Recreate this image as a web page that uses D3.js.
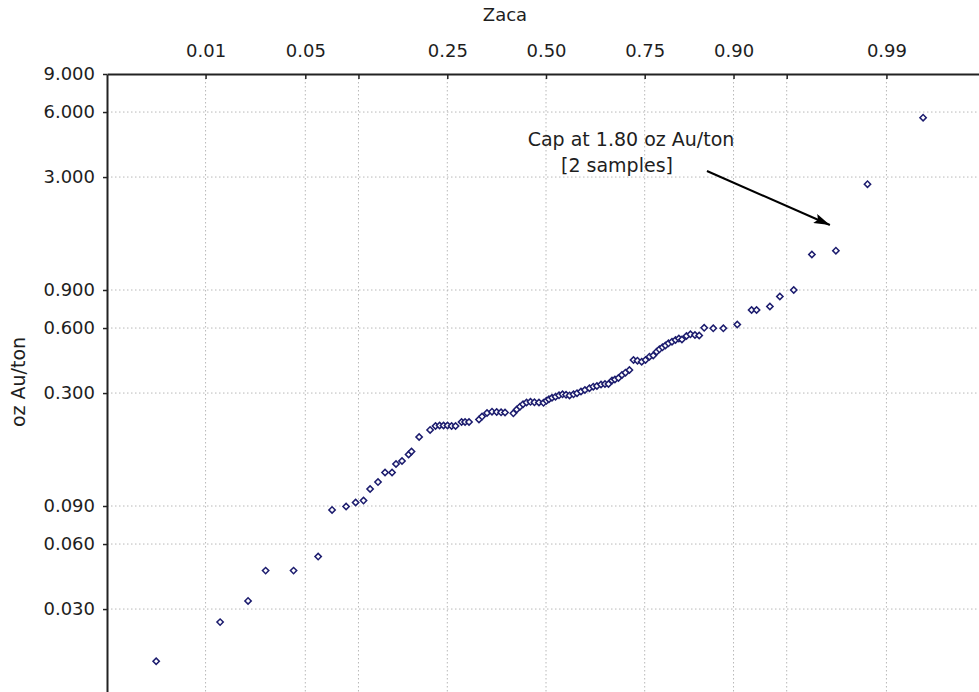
<!DOCTYPE html>
<html>
<head>
<meta charset="utf-8">
<script src="https://cdn.jsdelivr.net/npm/d3@7"></script>
<style>
  html, body { margin: 0; padding: 0; background: #ffffff; }
  svg { display: block; font-family: "DejaVu Sans", "Liberation Sans", Arial, sans-serif; }
</style>
</head>
<body>
<svg id="chart" width="979" height="692"></svg>
<script>
// Normal scores (expected z) of each sample and its gold grade (oz Au/ton)
const normalScores = [
  -2.664, -2.227, -2.036, -1.916, -1.725, -1.557, -1.462, -1.366, -1.301, -1.247,
  -1.202, -1.148, -1.100, -1.052, -1.025, -0.984, -0.939, -0.919, -0.867, -0.792,
  -0.755, -0.727, -0.700, -0.673, -0.645, -0.618, -0.577, -0.553, -0.526, -0.458,
  -0.437, -0.403, -0.369, -0.337, -0.307, -0.280, -0.223, -0.200, -0.178, -0.157,
  -0.133, -0.106, -0.079, -0.048, -0.017, 0.003, 0.020, 0.041, 0.065, 0.089,
  0.113, 0.137, 0.161, 0.188, 0.212, 0.239, 0.266, 0.297, 0.323, 0.348,
  0.376, 0.403, 0.427, 0.451, 0.471, 0.495, 0.519, 0.543, 0.570, 0.598,
  0.625, 0.654, 0.680, 0.707, 0.733, 0.756, 0.775, 0.796, 0.816, 0.837,
  0.861, 0.885, 0.908, 0.929, 0.960, 0.987, 1.018, 1.047, 1.081, 1.143,
  1.212, 1.307, 1.405, 1.439, 1.530, 1.598, 1.693, 1.817, 1.981, 2.197,
  2.577
];
const gradeValues = [
  0.0172, 0.0261, 0.0327, 0.0452, 0.0452, 0.0525, 0.0863, 0.0895, 0.0934, 0.0954,
  0.1079, 0.1162, 0.1286, 0.1286, 0.1408, 0.1454, 0.1558, 0.1609, 0.1878, 0.2024,
  0.2112, 0.2123, 0.2123, 0.2123, 0.2112, 0.2112, 0.2204, 0.2204, 0.2204, 0.2263,
  0.2336, 0.2425, 0.2459, 0.2451, 0.2443, 0.2438, 0.2417, 0.2518, 0.2594, 0.2664,
  0.2713, 0.2733, 0.2719, 0.2713, 0.2704, 0.2762, 0.2809, 0.2854, 0.2885, 0.2928,
  0.2960, 0.2945, 0.2924, 0.2960, 0.2995, 0.3050, 0.3099, 0.3159, 0.3210, 0.3234,
  0.3286, 0.3304, 0.3304, 0.3430, 0.3467, 0.3522, 0.3637, 0.3727, 0.3836, 0.4268,
  0.4237, 0.4192, 0.4268, 0.4420, 0.4477, 0.4662, 0.4783, 0.4886, 0.4981, 0.5099,
  0.5187, 0.5281, 0.5367, 0.5310, 0.5511, 0.5612, 0.5570, 0.5540, 0.6015, 0.5983,
  0.5983, 0.6231, 0.7273, 0.7273, 0.7548, 0.8398, 0.9000, 1.314, 1.368, 2.781,
  5.648
];

// Axis ticks
const probTicks = [0.01, 0.05, 0.10, 0.25, 0.50, 0.75, 0.90, 0.95, 0.99];
const probTickLabels = ["0.01", "0.05", "", "0.25", "0.50", "0.75", "0.90", "", "0.99"];
const gradeTicks = [0.03, 0.06, 0.09, 0.3, 0.6, 0.9, 3, 6, 9];

// Titles and annotation
const xTitle = "Zaca";
const yTitle = "oz Au/ton";
const capValue = 1.80;
const capLines = ["Cap at 1.80 oz Au/ton", "[2 samples]"];

// Inverse of the standard normal CDF (Acklam's rational approximation)
function probit(p) {
  const a = [-3.969683028665376e+01, 2.209460984245205e+02, -2.759285104469687e+02,
             1.383577518672690e+02, -3.066479806614716e+01, 2.506628277459239e+00];
  const b = [-5.447609879822406e+01, 1.615858368580409e+02, -1.556989798598866e+02,
             6.680131188771972e+01, -1.328068155288572e+01];
  const c = [-7.784894002430293e-03, -3.223964580411365e-01, -2.400758277161838e+00,
             -2.549732539343734e+00, 4.374664141464968e+00, 2.938163982698783e+00];
  const d = [7.784695709041462e-03, 3.224671290700398e-01, 2.445134137142996e+00,
             3.754408661907416e+00];
  const pl = 0.02425, ph = 1 - pl;
  let q, r;
  if (p < pl) {
    q = Math.sqrt(-2 * Math.log(p));
    return (((((c[0]*q + c[1])*q + c[2])*q + c[3])*q + c[4])*q + c[5]) /
           ((((d[0]*q + d[1])*q + d[2])*q + d[3])*q + 1);
  }
  if (p > ph) {
    q = Math.sqrt(-2 * Math.log(1 - p));
    return -(((((c[0]*q + c[1])*q + c[2])*q + c[3])*q + c[4])*q + c[5]) /
            ((((d[0]*q + d[1])*q + d[2])*q + d[3])*q + 1);
  }
  q = p - 0.5; r = q * q;
  return (((((a[0]*r + a[1])*r + a[2])*r + a[3])*r + a[4])*r + a[5]) * q /
         (((((b[0]*r + b[1])*r + b[2])*r + b[3])*r + b[4])*r + 1);
}

const svg = d3.select("#chart");
const plotLeft = 107, plotTop = 74, plotRight = 985, plotBottom = 722;

const x = d3.scaleLinear().domain([-3, 3]).range([plotLeft, plotRight]);
const y = d3.scaleLog().domain([0.009, 9]).range([plotBottom, plotTop]);

const textColor = "#1e1e1e";
const gridColor = "#b8b8b8";

// Vertical grid at the probability ticks
svg.append("g")
  .selectAll("line")
  .data(probTicks)
  .join("line")
  .attr("x1", d => x(probit(d))).attr("x2", d => x(probit(d)))
  .attr("y1", plotTop).attr("y2", plotBottom)
  .attr("stroke", gridColor).attr("stroke-width", 1)
  .attr("stroke-dasharray", "1.5,2.5");

// Horizontal grid at the grade ticks
svg.append("g")
  .selectAll("line")
  .data(gradeTicks.filter(d => d < 9))
  .join("line")
  .attr("x1", plotLeft).attr("x2", plotRight)
  .attr("y1", d => y(d)).attr("y2", d => y(d))
  .attr("stroke", gridColor).attr("stroke-width", 1)
  .attr("stroke-dasharray", "1.5,2.5");

// Top probability axis
const topAxis = svg.append("g")
  .attr("transform", `translate(0,${plotTop})`)
  .call(d3.axisTop(x)
    .tickValues(probTicks.map(probit))
    .tickFormat((d, i) => probTickLabels[i])
    .tickSizeInner(-5).tickSizeOuter(0).tickPadding(17));
topAxis.select(".domain").attr("stroke", "#222").attr("stroke-width", 2);
topAxis.selectAll(".tick line").attr("stroke", "#222").attr("stroke-width", 1.5);
topAxis.selectAll(".tick text")
  .attr("font-family", "DejaVu Sans").attr("font-size", 18).attr("fill", textColor);

// Left grade axis (log scale)
const leftAxis = svg.append("g")
  .attr("transform", `translate(${plotLeft},0)`)
  .call(d3.axisLeft(y)
    .tickValues(gradeTicks)
    .tickFormat(d3.format(".3f"))
    .tickSizeInner(4).tickSizeOuter(0).tickPadding(8));
leftAxis.select(".domain").attr("stroke", "#222").attr("stroke-width", 2);
leftAxis.selectAll(".tick line").attr("stroke", "#222").attr("stroke-width", 1.5);
leftAxis.selectAll(".tick text")
  .attr("font-family", "DejaVu Sans").attr("font-size", 18).attr("fill", textColor);

// Axis titles
svg.append("text")
  .attr("x", 505).attr("y", 21)
  .attr("text-anchor", "middle")
  .attr("font-size", 18).attr("fill", textColor)
  .text(xTitle);

svg.append("text")
  .attr("transform", "translate(25,382) rotate(-90)")
  .attr("text-anchor", "middle")
  .attr("font-size", 19).attr("fill", textColor)
  .text(yTitle);

// Sample points
const samples = normalScores.map((z, i) => ({ z, v: gradeValues[i] }));
const marker = d3.symbol().type(d3.symbolSquare).size(20);
svg.append("g")
  .selectAll("path")
  .data(samples)
  .join("path")
  .attr("d", marker)
  .attr("transform", d => `translate(${x(d.z)},${y(d.v)}) rotate(45)`)
  .attr("fill", "#ffffff")
  .attr("stroke", "#1c1c6e")
  .attr("stroke-width", 1.5);

// Cap annotation with arrow
svg.append("defs").append("marker")
  .attr("id", "arrowHead")
  .attr("viewBox", "0 0 16 10")
  .attr("refX", 16).attr("refY", 5)
  .attr("markerWidth", 16).attr("markerHeight", 10)
  .attr("markerUnits", "userSpaceOnUse")
  .attr("orient", "auto")
  .append("path")
  .attr("d", "M0,0 L16,5 L0,10 L3,5 Z")
  .attr("fill", "#000");

svg.append("line")
  .attr("x1", x(1.10)).attr("y1", y(3.2))
  .attr("x2", x(1.94)).attr("y2", y(capValue))
  .attr("stroke", "#000").attr("stroke-width", 2)
  .attr("marker-end", "url(#arrowHead)");

const capText = svg.append("text")
  .attr("text-anchor", "middle")
  .attr("font-size", 19).attr("fill", textColor);
capText.append("tspan").attr("x", 631).attr("y", 146).text(capLines[0]);
capText.append("tspan").attr("x", 617).attr("y", 172).text(capLines[1]);
</script>
</body>
</html>
